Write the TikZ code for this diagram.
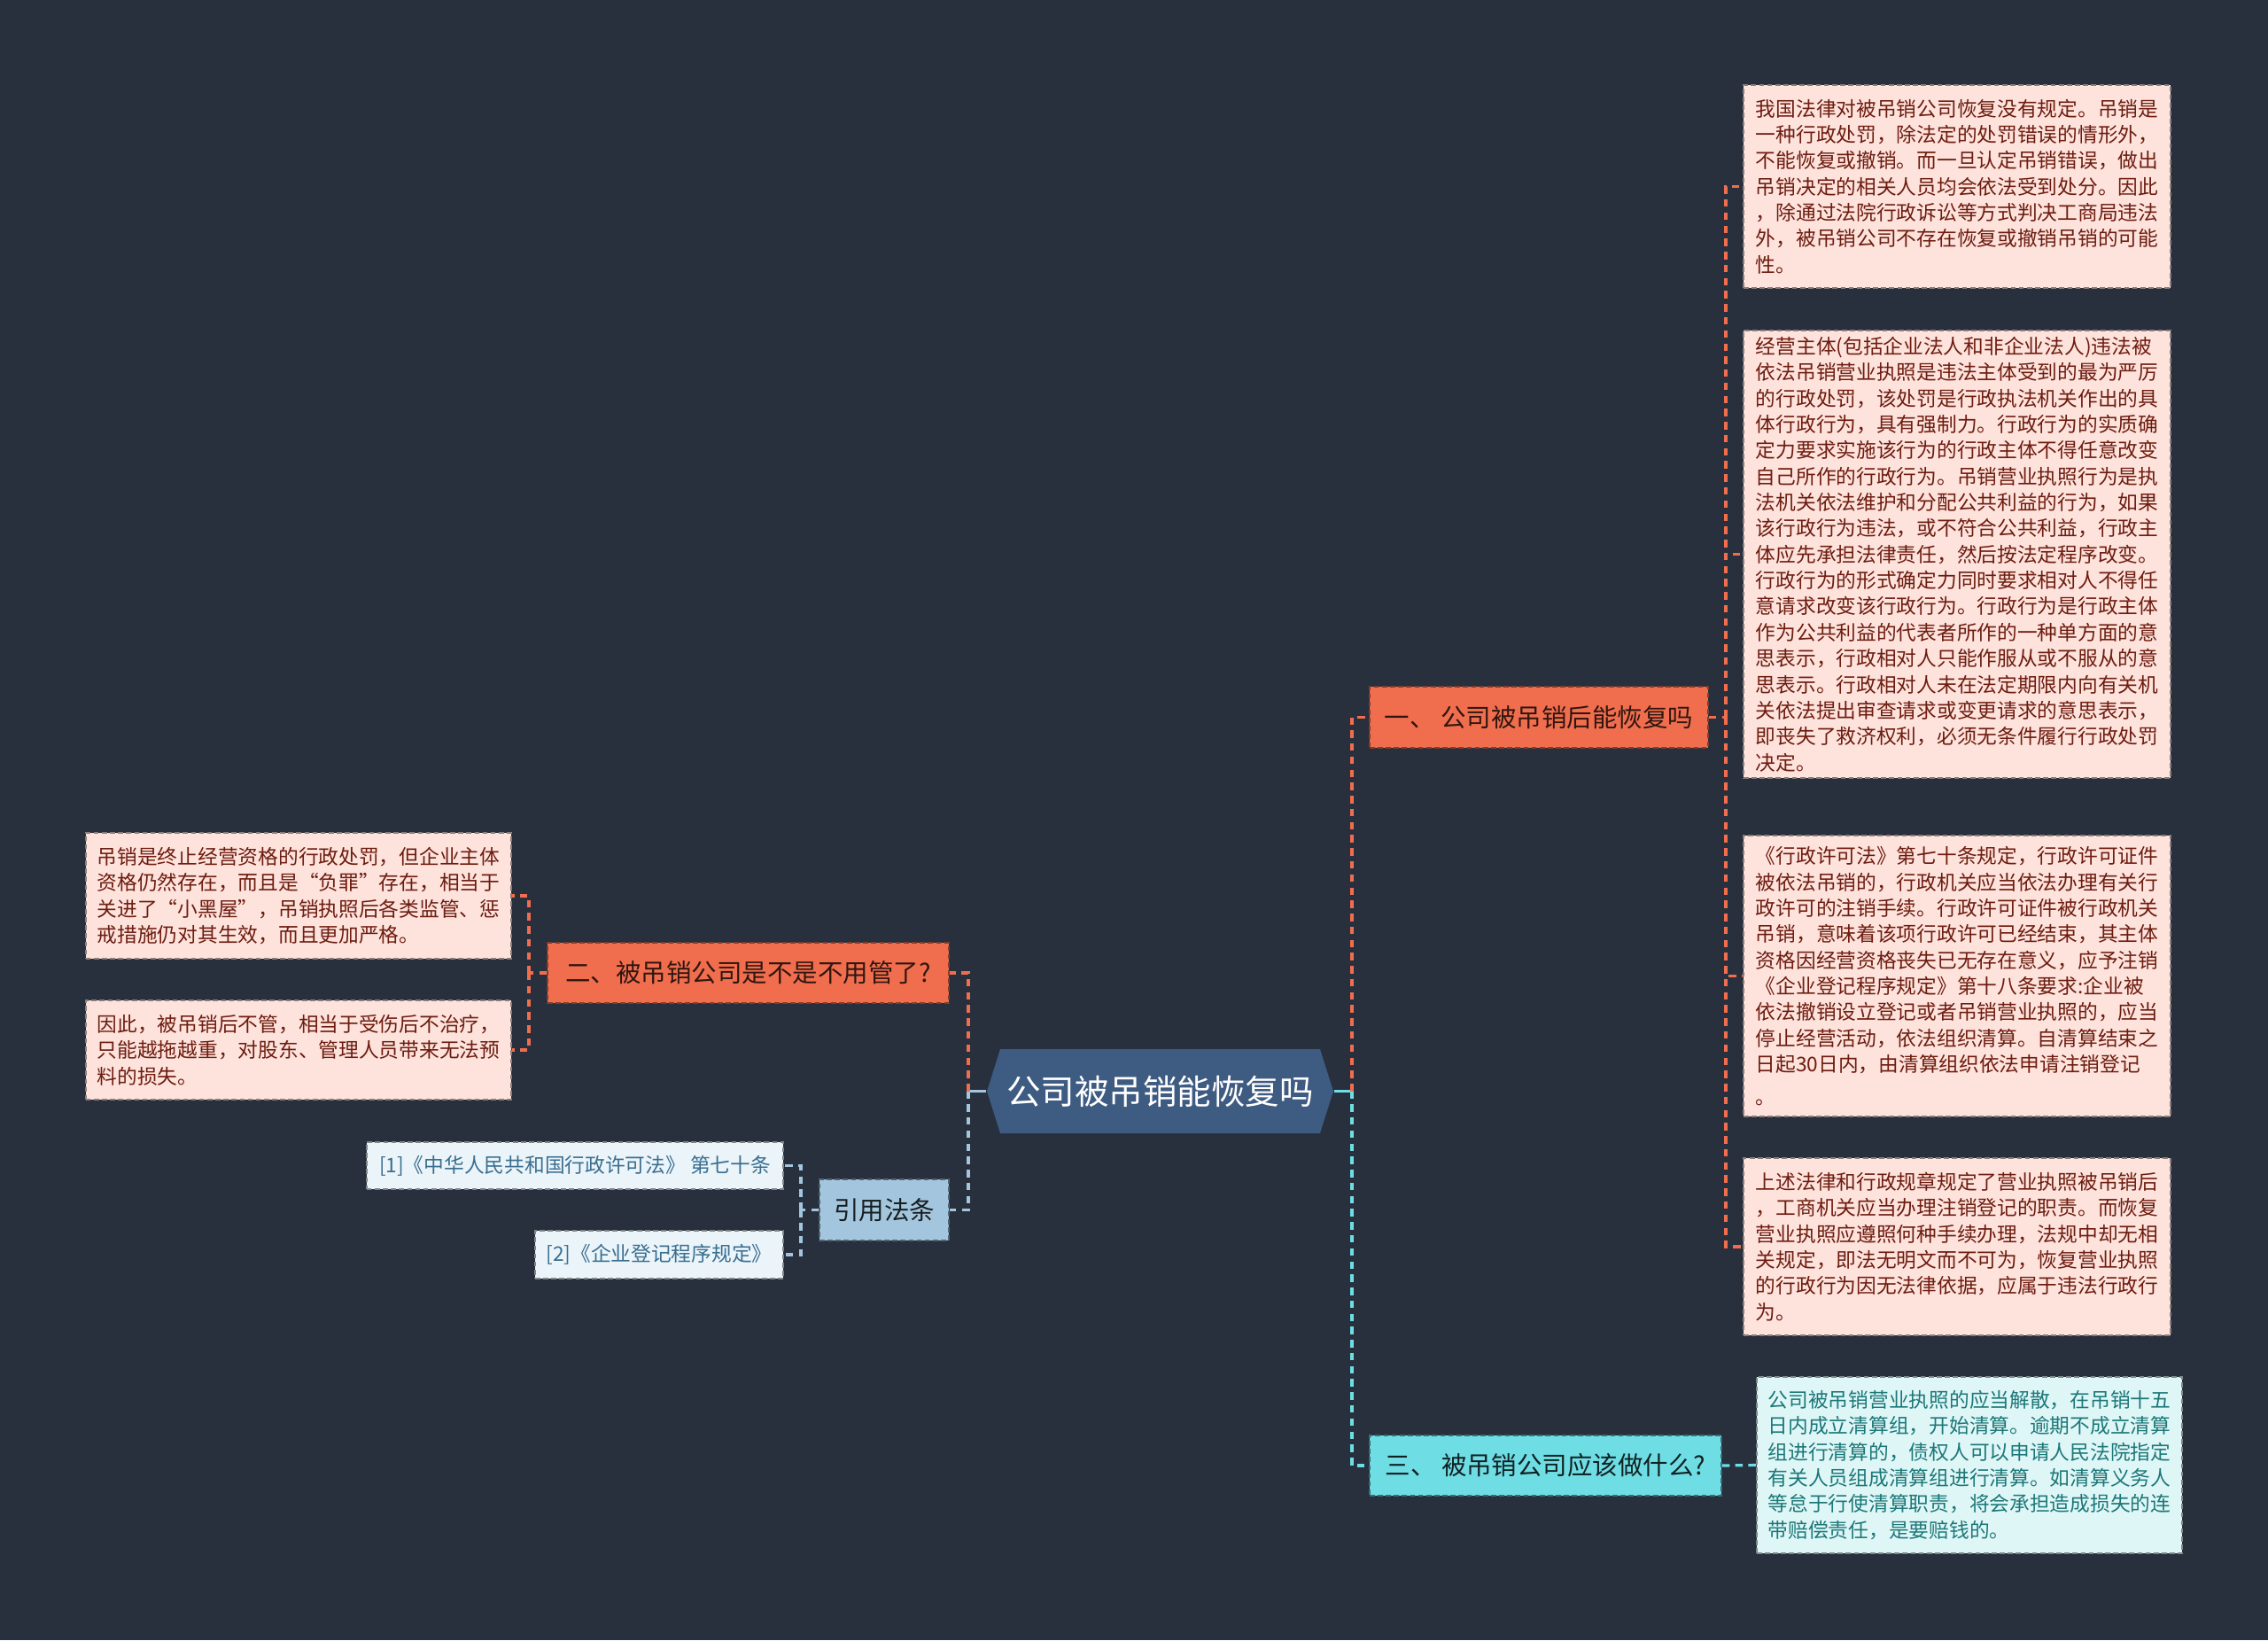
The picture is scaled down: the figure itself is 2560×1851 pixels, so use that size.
\documentclass[tikz,border=0pt]{standalone}
\usepackage{fontspec}
\setmainfont{Noto Sans CJK SC}

\definecolor{bgdark}{HTML}{282F3D}
\definecolor{rootblue}{HTML}{3E5B82}
\definecolor{brorange}{HTML}{F06E4E}
\definecolor{brcyan}{HTML}{6EDDE4}
\definecolor{brblue}{HTML}{A3C6DE}
\definecolor{leafpink}{HTML}{FDE3DC}
\definecolor{leafpinktext}{HTML}{6E1C10}
\definecolor{leafcyan}{HTML}{DFF6F7}
\definecolor{leafcyantext}{HTML}{1C7878}
\definecolor{leafblue}{HTML}{EAF4F9}
\definecolor{leafbluetext}{HTML}{3A6E90}

\tikzset{
  box/.style={draw, dash pattern=on 1.6pt off 1pt, line width=0.45pt, inner sep=0pt, align=left},
  smalltext/.style={font=\fontsize{6.46pt}{8.35pt}\selectfont},
  brtext/.style={font=\fontsize{8.1pt}{9.5pt}\selectfont},
  leafred/.style={box, smalltext, fill=leafpink, draw=leafpink!55!black, text=leafpinktext},
  leafteal/.style={box, smalltext, fill=leafcyan, draw=leafcyan!55!black, text=leafcyantext},
  leafref/.style={box, smalltext, fill=leafblue, draw=leafblue!55!black, text=leafbluetext},
  brred/.style={box, brtext, fill=brorange, draw=brorange!55!black, text=black!80!brorange},
  brteal/.style={box, brtext, fill=brcyan, draw=brcyan!50!black, text=black!85!brcyan},
  brref/.style={box, brtext, fill=brblue, draw=brblue!50!black, text=black!85!brblue},
  link/.style={line width=0.9pt, dash pattern=on 2.4pt off 1.8pt},
}

\begin{document}
\begin{tikzpicture}[x=0.01cm,y=-0.01cm]
  %
  % macro: box node with style, name, centre, width, height, text
  \newcommand{\mapnode}[7]{
    \node[#1, minimum width=#5, minimum height=#6] (#2) at (#3,#4) {#7};
  }
  %
  \fill[bgdark] (0,0) rectangle (2560,1851);
  \useasboundingbox (0,0) rectangle (2560,1851);
  %
  % centre topic
  \fill[rootblue] (1114,1231.5) -- (1129,1184) -- (1490,1184) -- (1505,1231.5)
    -- (1490,1279) -- (1129,1279) -- cycle;
  \node[inner sep=0pt, minimum width=3.91cm, minimum height=0.95cm, text=white,
    font=\fontsize{10.95pt}{12pt}\selectfont] (root) at (1309.5,1231.5) {公司被吊销能恢复吗};
  %
  % branches
  \mapnode{brred}{b1}{1737}{809.5}{3.82cm}{0.69cm}{一、 公司被吊销后能恢复吗}
  \mapnode{brteal}{b3}{1744.5}{1654}{3.97cm}{0.68cm}{三、 被吊销公司应该做什么?}
  \mapnode{brred}{b2}{844.5}{1098}{4.53cm}{0.68cm}{二、被吊销公司是不是不用管了?}
  \mapnode{brref}{cite}{998}{1365.5}{1.46cm}{0.69cm}{引用法条}
  %
  % right leaves
  \mapnode{leafred}{r1}{2209}{210.5}{4.82cm}{2.29cm}{我国法律对被吊销公司恢复没有规定。吊销是\\一种行政处罚，除法定的处罚错误的情形外，\\不能恢复或撤销。而一旦认定吊销错误，做出\\吊销决定的相关人员均会依法受到处分。因此\\，除通过法院行政诉讼等方式判决工商局违法\\外，被吊销公司不存在恢复或撤销吊销的可能\\性。}
  \mapnode{leafred}{r2}{2209}{625.5}{4.82cm}{5.05cm}{经营主体(包括企业法人和非企业法人)违法被\\依法吊销营业执照是违法主体受到的最为严厉\\的行政处罚，该处罚是行政执法机关作出的具\\体行政行为，具有强制力。行政行为的实质确\\定力要求实施该行为的行政主体不得任意改变\\自己所作的行政行为。吊销营业执照行为是执\\法机关依法维护和分配公共利益的行为，如果\\该行政行为违法，或不符合公共利益，行政主\\体应先承担法律责任，然后按法定程序改变。\\行政行为的形式确定力同时要求相对人不得任\\意请求改变该行政行为。行政行为是行政主体\\作为公共利益的代表者所作的一种单方面的意\\思表示，行政相对人只能作服从或不服从的意\\思表示。行政相对人未在法定期限内向有关机\\关依法提出审查请求或变更请求的意思表示，\\即丧失了救济权利，必须无条件履行行政处罚\\决定。}
  \mapnode{leafred}{r3}{2209}{1101.5}{4.82cm}{3.17cm}{《行政许可法》第七十条规定，行政许可证件\\被依法吊销的，行政机关应当依法办理有关行\\政许可的注销手续。行政许可证件被行政机关\\吊销，意味着该项行政许可已经结束，其主体\\资格因经营资格丧失已无存在意义，应予注销\\《企业登记程序规定》第十八条要求:企业被\\依法撤销设立登记或者吊销营业执照的，应当\\停止经营活动，依法组织清算。自清算结束之\\日起30日内，由清算组织依法申请注销登记\\[2pt]。}
  \mapnode{leafred}{r4}{2209}{1407}{4.82cm}{2.00cm}{上述法律和行政规章规定了营业执照被吊销后\\，工商机关应当办理注销登记的职责。而恢复\\营业执照应遵照何种手续办理，法规中却无相\\关规定，即法无明文而不可为，恢复营业执照\\的行政行为因无法律依据，应属于违法行政行\\为。}
  \mapnode{leafteal}{r5}{2223}{1653.5}{4.80cm}{1.99cm}{公司被吊销营业执照的应当解散，在吊销十五\\日内成立清算组，开始清算。逾期不成立清算\\组进行清算的，债权人可以申请人民法院指定\\有关人员组成清算组进行清算。如清算义务人\\等怠于行使清算职责，将会承担造成损失的连\\带赔偿责任，是要赔钱的。}
  %
  % left leaves
  \mapnode{leafred}{l1}{337}{1011}{4.80cm}{1.42cm}{吊销是终止经营资格的行政处罚，但企业主体\\资格仍然存在，而且是“负罪”存在，相当于\\关进了“小黑屋”，吊销执照后各类监管、惩\\戒措施仍对其生效，而且更加严格。}
  \mapnode{leafred}{l2}{337}{1185}{4.80cm}{1.12cm}{因此，被吊销后不管，相当于受伤后不治疗，\\只能越拖越重，对股东、管理人员带来无法预\\料的损失。}
  \mapnode{leafref}{ref1}{649}{1315.5}{4.70cm}{0.53cm}{[1]《中华人民共和国行政许可法》 第七十条}
  \mapnode{leafref}{ref2}{744}{1416}{2.80cm}{0.54cm}{[2]《企业登记程序规定》}
  %
  % junctions
  \coordinate (jr) at (1526,1231.5);
  \coordinate (jl) at (1093,1231.5);
  \coordinate (j1) at (1948,809.5);
  \coordinate (j2) at (597,1098);
  \coordinate (jc) at (904,1365.5);
  %
  % connectors
  \draw[brcyan, line width=0.9pt] (root.east) -- (jr);
  \draw[brblue, line width=0.9pt] (root.west) -- (jl);
  \draw[link, brorange] (jr) |- (b1.west);
  \draw[link, brcyan] (jr) |- (b3.west);
  \draw[link, brorange] (jl) |- (b2.east);
  \draw[link, brblue] (jl) |- (cite.east);
  \draw[link, brorange] (b1.east) -- (j1);
  \foreach \leaf in {r1,r2,r3,r4}
    \draw[link, brorange] (j1) |- (\leaf.west);
  \draw[link, brcyan] (b3.east) -- (r5.west);
  \draw[link, brorange] (b2.west) -- (j2);
  \draw[link, brorange] (j2) |- (l1.east);
  \draw[link, brorange] (j2) |- (l2.east);
  \draw[link, brblue] (cite.west) -- (jc);
  \draw[link, brblue] (jc) |- (ref1.east);
  \draw[link, brblue] (jc) |- (ref2.east);
\end{tikzpicture}
\end{document}
